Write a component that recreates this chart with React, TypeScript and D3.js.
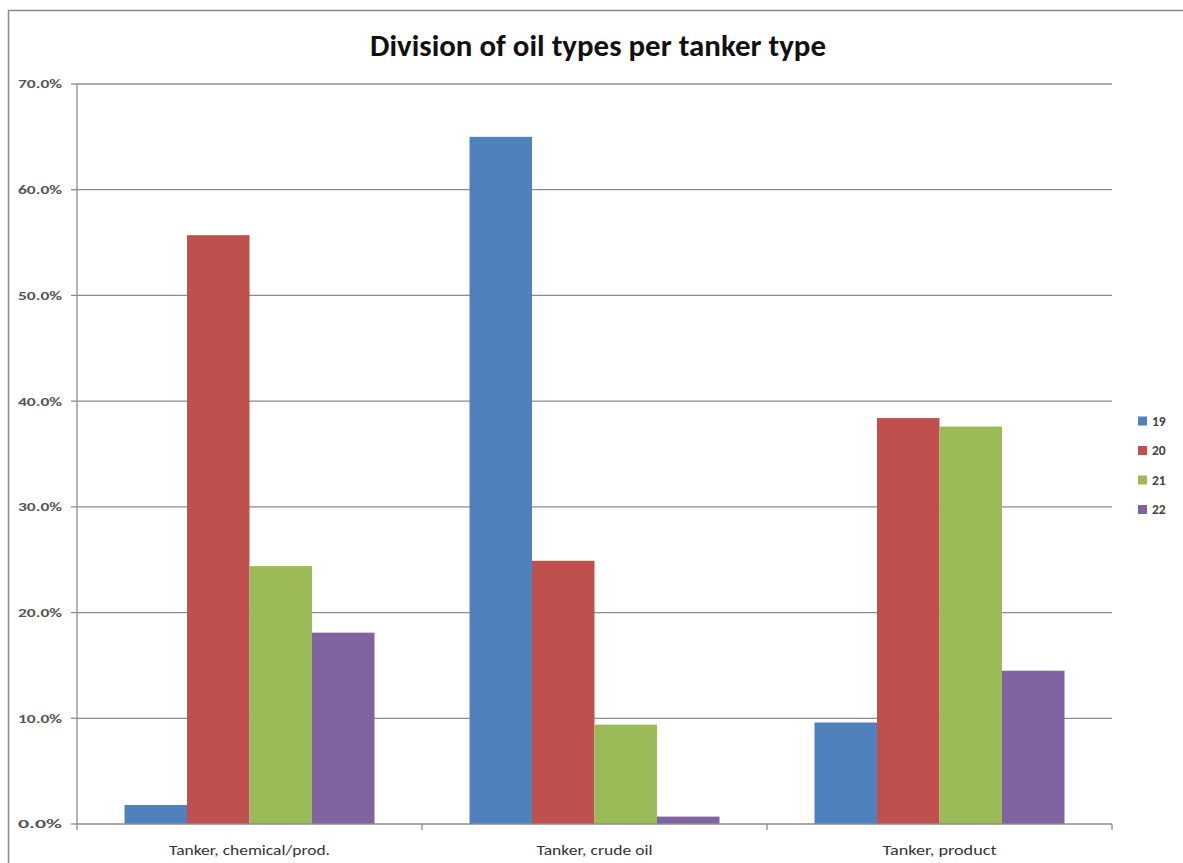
import React from "react";
import * as d3 from "d3";

const categories = ["Tanker, chemical/prod.", "Tanker, crude oil", "Tanker, product"];
const seriesNames = ["19", "20", "21", "22"];
const values19 = [0.018, 0.65, 0.096];
const values20 = [0.557, 0.249, 0.384];
const values21 = [0.244, 0.094, 0.376];
const values22 = [0.181, 0.007, 0.145];
const yTicks = [0, 0.1, 0.2, 0.3, 0.4, 0.5, 0.6, 0.7];
const colors = ["#4F81BD", "#C0504D", "#9BBB59", "#8064A2"];
const title = "Division of oil types per tanker type";

const seriesValues = [values19, values20, values21, values22];

export default function App() {
  const W = 1183, H = 863;
  const left = 77, right = 1112, top = 84, bottom = 824;
  const font = "Carlito, Calibri, Lato, 'Open Sans', sans-serif";
  const x0 = d3.scaleBand<string>().domain(categories).range([left, right]).paddingInner(0).paddingOuter(0);
  const x1 = d3.scaleBand<string>().domain(seriesNames).range([0, x0.bandwidth()]).paddingOuter(0.76).paddingInner(0);
  const y = d3.scaleLinear().domain([0, 0.7]).range([bottom, top]);
  const fmt = d3.format(".1%");
  const boundaries = [...categories.map((c) => x0(c)!), right];
  const xLabelLen = [161, 116, 114];

  return (
    <svg width={W} height={H} style={{ position: "absolute", left: 0, top: 0, background: "#fff" }}>
      <rect x={8.5} y={10.5} width={W + 10} height={H + 10} fill="#fff" stroke="#8a8a8a" strokeWidth={1.5} />
      <text x={598} y={56} textAnchor="middle" fontFamily={font} fontWeight="bold" fontSize={30} fill="#111"
        textLength={456} lengthAdjust="spacingAndGlyphs">
        {title}
      </text>
      {yTicks.map((t) => (
        <g key={t}>
          {t > 0 && (
            <line x1={left} x2={right} y1={y(t)} y2={y(t)} stroke="#8c8c8c" strokeWidth={1.3} />
          )}
          <line x1={left - 6} x2={left} y1={y(t)} y2={y(t)} stroke="#8c8c8c" strokeWidth={1.3} />
          <text x={62} y={y(t)} dy="0.35em" textAnchor="end" fontFamily={font} fontSize={12.5} fontWeight="bold" fill="#555"
            textLength={44} lengthAdjust="spacingAndGlyphs">
            {fmt(t)}
          </text>
        </g>
      ))}
      {categories.map((c, ci) => (
        <g key={c} transform={`translate(${x0(c)},0)`}>
          {seriesNames.map((s, si) => {
            const v = seriesValues[si][ci];
            return (
              <rect
                key={s}
                x={x1(s)}
                y={y(v)}
                width={x1.bandwidth()}
                height={bottom - y(v)}
                fill={colors[si]}
              />
            );
          })}
          <text x={x0.bandwidth() / 2} y={855} textAnchor="middle" fontFamily={font} fontSize={14.5} fill="#333"
            textLength={xLabelLen[ci]} lengthAdjust="spacingAndGlyphs">
            {c}
          </text>
        </g>
      ))}
      <line x1={left} x2={left} y1={top} y2={bottom} stroke="#8c8c8c" strokeWidth={1.3} />
      <line x1={left} x2={right} y1={bottom} y2={bottom} stroke="#8c8c8c" strokeWidth={1.3} />
      {boundaries.map((b, i) => (
        <line key={i} x1={b} x2={b} y1={bottom} y2={bottom + 6} stroke="#8c8c8c" strokeWidth={1.3} />
      ))}
      {seriesNames.map((s, i) => (
        <g key={s} transform={`translate(1138,${421 + i * 29.5})`}>
          <rect x={0} y={-4.5} width={9} height={9} fill={colors[i]} />
          <text x={14} y={0} dy="0.35em" fontFamily={font} fontSize={13.5} fontWeight="bold" fill="#444">
            {s}
          </text>
        </g>
      ))}
    </svg>
  );
}
